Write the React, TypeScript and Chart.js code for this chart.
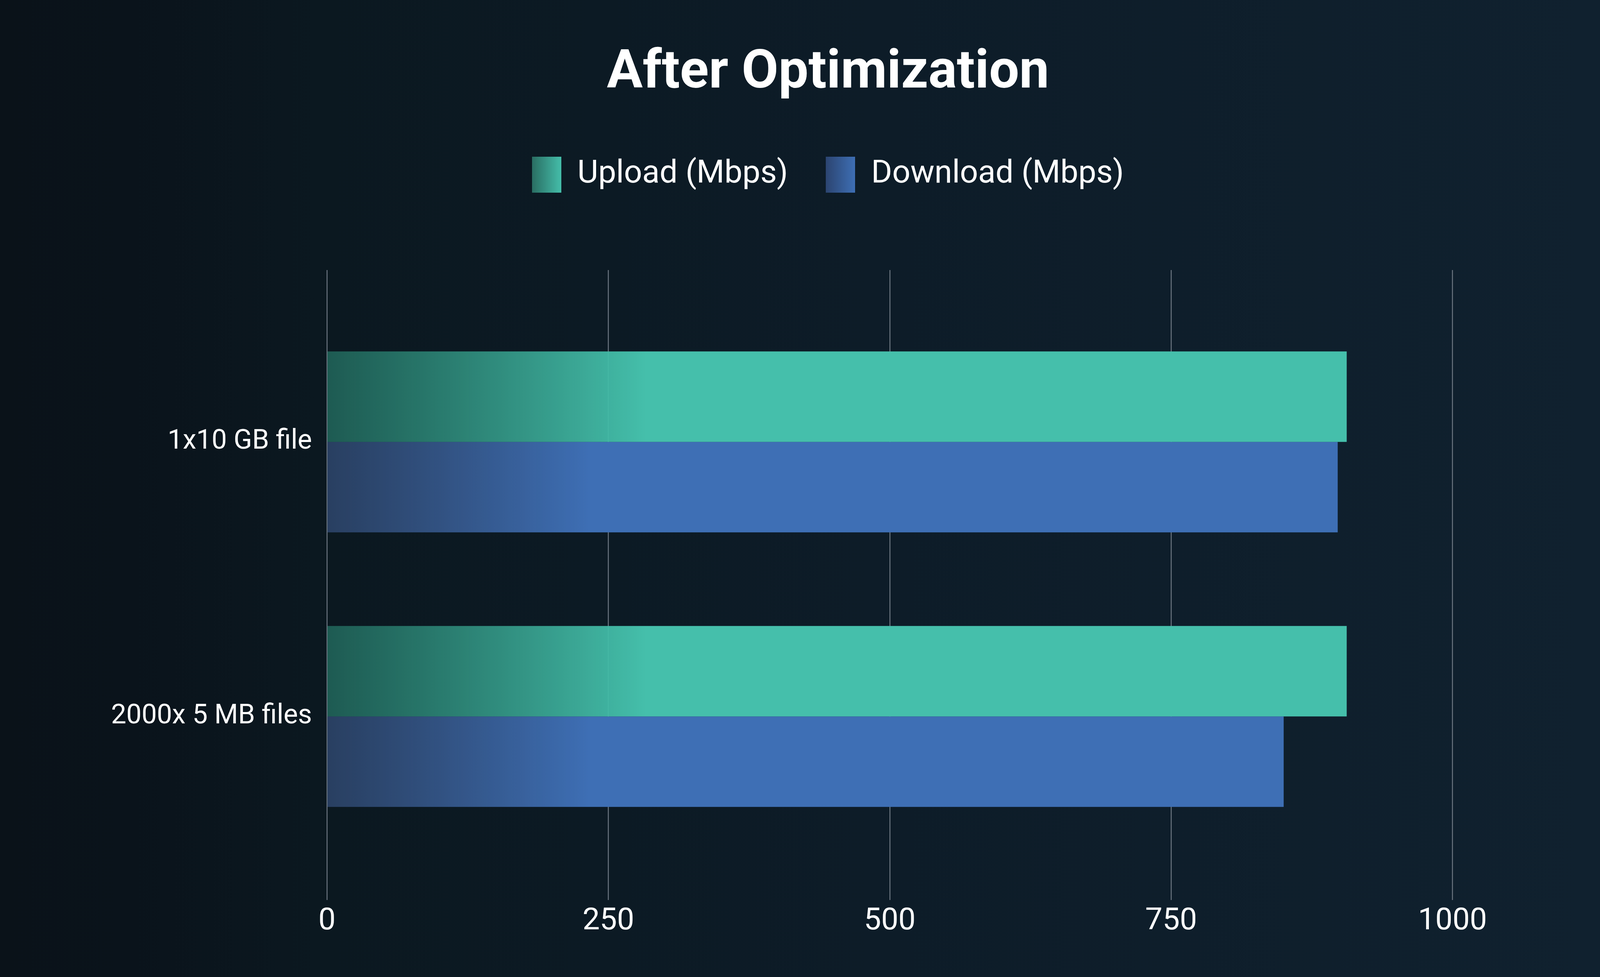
import { Chart, registerables } from "chart.js"
import React, { useEffect, useRef } from "react"

Chart.register(...registerables)

const categories = ["1x10 GB file", "2000x 5 MB files"]
const uploadMbps = [906, 906]
const downloadMbps = [898, 850]
const xTicks = [0, 250, 500, 750, 1000]

const UPLOAD = "#45bfab"
const DOWNLOAD = "#3e6fb5"

// the reference is 5001 x 2500; sizes below are given in those pixels
const REF_W = 5001
const REF_H = 2500

const makeSwatch = (w: number, h: number, from: string, to: string) => {
  const c = document.createElement("canvas")
  c.width = Math.round(w)
  c.height = Math.round(h)
  const g = c.getContext("2d")!
  const grad = g.createLinearGradient(0, 0, c.width, 0)
  grad.addColorStop(0, from)
  grad.addColorStop(1, to)
  g.fillStyle = grad
  g.fillRect(0, 0, c.width, c.height)
  return c
}

// bars fade in from the axis up to fadeTo, solid after that
const barFill = (fadeFrom: string, solid: string, fadeTo: number) => (ctx: any) => {
  const { chart } = ctx
  const x = chart.scales?.x
  if (!chart.chartArea || !x) return solid
  const grad = chart.ctx.createLinearGradient(x.getPixelForValue(0), 0, x.getPixelForValue(fadeTo), 0)
  grad.addColorStop(0, fadeFrom)
  grad.addColorStop(1, solid)
  return grad
}

const App: React.FC = () => {
  const chartRef = useRef<HTMLCanvasElement>(null)
  const chartInstanceRef = useRef<Chart | null>(null)

  useEffect(() => {
    document.body.style.margin = "0"
    document.body.style.overflow = "hidden"
    Chart.defaults.font.family = "Roboto"

    const ctx = chartRef.current?.getContext("2d")
    if (!ctx) return

    const kx = window.innerWidth / REF_W
    const ky = window.innerHeight / REF_H
    const sx = (v: number) => v * kx
    const sy = (v: number) => v * ky

    // vertical plan (reference px): title caps centred at 180, legend row at 447,
    // plot from 691 to 2286
    const titleSize = sx(167)
    const titleTop = sy(180) + sx(12) - titleSize / 2
    const legendFont = sx(100)
    const legendPad = sx(118)
    const legendTop = sy(447) - legendPad - legendFont / 2
    const legendBottom = legendTop + legendFont + legendPad + 10
    const xFont = sx(96)
    const xPad = sx(10)
    const xAxisHeight = xFont * 1.2 + xPad + sx(31)

    const swatches = [
      makeSwatch(sx(92), sy(92), "#2a6e63", UPLOAD),
      makeSwatch(sx(92), sy(92), "#2c4571", DOWNLOAD),
    ]

    chartInstanceRef.current = new Chart(ctx, {
      type: "bar",
      data: {
        datasets: [
          {
            label: "Upload (Mbps)",
            data: uploadMbps.map((v, i) => ({ x: v, y: i })),
            backgroundColor: barFill("rgba(49,158,133,0.5)", UPLOAD, 283),
            borderWidth: 0,
          },
          {
            label: "Download (Mbps)",
            data: downloadMbps.map((v, i) => ({ x: v, y: i })),
            backgroundColor: barFill("rgba(61,90,141,0.6)", DOWNLOAD, 233),
            borderWidth: 0,
          },
        ],
      },
      options: {
        indexAxis: "y",
        responsive: true,
        maintainAspectRatio: false,
        animation: false,
        categoryPercentage: 0.659,
        barPercentage: 1,
        layout: {
          padding: {
            left: sx(636),
            right: sx(461),
            top: 0,
            bottom: sy(REF_H - 2286) - xAxisHeight,
          },
        },
        plugins: {
          tooltip: { enabled: false },
          title: {
            display: true,
            text: "After Optimization",
            color: "#ffffff",
            font: { size: titleSize, weight: "bold", lineHeight: 1 },
            padding: { top: titleTop, bottom: legendTop - titleTop - titleSize },
          },
          legend: {
            position: "top",
            labels: {
              color: "#ffffff",
              font: { size: legendFont },
              usePointStyle: true,
              boxWidth: sx(92),
              boxHeight: sx(92),
              padding: legendPad,
              generateLabels: (chart: Chart) =>
                Chart.defaults.plugins.legend.labels
                  .generateLabels(chart)
                  .map((item: any, i: number) => ({ ...item, pointStyle: swatches[i] })),
            },
          },
        },
        scales: {
          x: {
            type: "linear",
            min: 0,
            max: 1000,
            afterBuildTicks: (scale: any) => {
              scale.ticks = xTicks.map((v) => ({ value: v }))
            },
            grid: { color: "#6b7580", lineWidth: sx(3), drawTicks: false },
            border: { display: false },
            ticks: {
              color: "#ffffff",
              font: { size: xFont },
              padding: xPad,
              maxRotation: 0,
              callback: (v: any) => String(v),
            },
          },
          // empty band between the legend and the plot
          gap: {
            type: "linear",
            position: "top",
            grid: { display: false, drawTicks: false },
            border: { display: false },
            ticks: { display: false },
            afterFit: (scale: any) => {
              scale.height = sy(691) - legendBottom
            },
          },
          y: {
            type: "linear",
            reverse: true,
            offset: false,
            min: -0.626,
            max: 1.669,
            afterBuildTicks: (scale: any) => {
              scale.ticks = categories.map((_, i) => ({ value: i }))
            },
            afterFit: (scale: any) => {
              scale.width = sx(386)
              // labels are wider than the axis box, do not clip them
              scale._computeLabelArea = () => undefined
            },
            grid: { display: false, drawTicks: false },
            border: { display: false },
            ticks: {
              color: "#ffffff",
              font: { size: sx(85) },
              padding: sx(47),
              callback: (v: any) => categories[v] ?? "",
            },
          },
        },
      },
    } as any)

    return () => {
      chartInstanceRef.current?.destroy()
    }
  }, [])

  return (
    <div
      style={{
        position: "relative",
        width: "100vw",
        height: "100vh",
        background:
          "linear-gradient(90deg, #0a1219 0%, #0a131b 8%, #0b1820 20%, #0d1c28 55%, #10212f 100%)",
      }}
    >
      <canvas ref={chartRef} />
    </div>
  )
}

export default App
